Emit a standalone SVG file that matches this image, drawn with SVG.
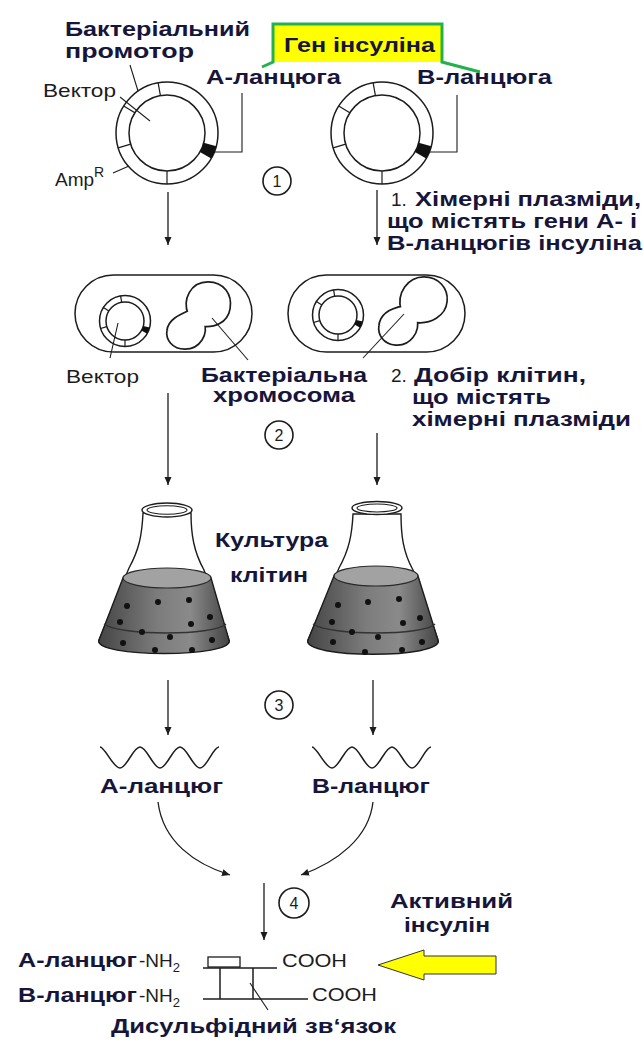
<svg xmlns="http://www.w3.org/2000/svg" xmlns:xlink="http://www.w3.org/1999/xlink" width="643" height="1041" viewBox="0 0 643 1041">
  <style>
    .lbl { font-family: "Liberation Sans", Arial, sans-serif; font-weight: 700; font-size: 19.5px; fill: #16163a; }
    .reg { font-family: "Liberation Sans", Arial, sans-serif; font-size: 19px; fill: #1c1c1c; }
    .num { font-family: "Liberation Sans", Arial, sans-serif; font-size: 16px; fill: #1c1c1c; text-anchor: middle; }
    .ln { fill: none; stroke: #1c1c1c; stroke-width: 1.5; }
    .thin { fill: none; stroke: #1c1c1c; stroke-width: 1.1; }
    .arrow { fill: none; stroke: #1c1c1c; stroke-width: 1.3; marker-end: url(#head); }
    .badge { fill: #fff; stroke: #1c1c1c; stroke-width: 1.6; }
    .dot { fill: #111; }
  </style>
  <defs>
    <marker id="head" markerUnits="userSpaceOnUse" markerWidth="9" markerHeight="8" refX="8" refY="3.5" orient="auto">
      <path d="M0,0 L8,3.5 L0,7 Z" fill="#1c1c1c"/>
    </marker>
    <!-- plasmid ring: outer r 51, inner r 38, segment ticks and a black gene insert -->
    <g id="plasmid">
      <circle r="51" fill="#fff" stroke="#1c1c1c" stroke-width="1.5" vector-effect="non-scaling-stroke"/>
      <circle r="38" fill="#fff" stroke="#1c1c1c" stroke-width="1.5" vector-effect="non-scaling-stroke"/>
      <g stroke="#1c1c1c" stroke-width="1.2">
        <line x1="38" x2="51" transform="rotate(-100)" vector-effect="non-scaling-stroke"/>
        <line x1="38" x2="51" transform="rotate(-148)" vector-effect="non-scaling-stroke"/>
        <line x1="38" x2="51" transform="rotate(163)" vector-effect="non-scaling-stroke"/>
        <line x1="38" x2="51" transform="rotate(90)" vector-effect="non-scaling-stroke"/>
      </g>
      <path d="M49.3,13.2 A51,51 0 0 1 44.2,25.5 L32.9,19 A38,38 0 0 0 36.7,9.8 Z" fill="#111"/>
    </g>
    <!-- bacterial chromosome outlines (drawn twice: dark wide stroke, then white narrower stroke) -->
    <path id="chromo-a" d="M191,313 C186,300 193,285 208,285 C222,285 229,296 227,308 C225,320 214,325 201,323 C205,333 198,346 185,346 C174,346 169,338 170,331 C171,322 180,318 191,313 Z"/>
    <path id="chromo-b" d="M404,309 C400,294 410,280 424,280 C437,280 445,290 444,301 C443,313 430,322 414,319 C417,331 408,343 396,342 C385,341 381,333 382,326 C383,316 393,311 404,309 Z"/>
    <linearGradient id="liquid" x1="0" y1="0" x2="1" y2="0">
      <stop offset="0" stop-color="#454545"/>
      <stop offset="0.45" stop-color="#7c7c7c"/>
      <stop offset="0.7" stop-color="#8a8a8a"/>
      <stop offset="1" stop-color="#444"/>
    </linearGradient>
  </defs>

  <!-- label: insulin gene callout -->
  <g id="gene-callout">
    <rect x="273" y="24" width="169" height="38" fill="#ffff00"/>
    <polyline points="262,67 273,62 273,24 442,24 442,62 480,72" fill="none" stroke="#22b14c" stroke-width="3"/>
    <text class="lbl" x="284" y="52" textLength="151" lengthAdjust="spacingAndGlyphs">Ген інсуліна</text>
  </g>

  <!-- plasmid carrying the A-chain gene -->
  <g id="plasmid-a">
    <use xlink:href="#plasmid" transform="translate(167,133)"/>
    <polyline class="thin" points="214,152 242,152 242,93"/>
    <line class="thin" x1="130" y1="65" x2="138" y2="91"/>
    <line class="thin" x1="120" y1="97" x2="150" y2="121"/>
    <line class="thin" x1="113" y1="173" x2="129" y2="166"/>
    <text class="lbl" x="65" y="36" textLength="185" lengthAdjust="spacingAndGlyphs">Бактеріальний</text>
    <text class="lbl" x="65" y="58" textLength="129" lengthAdjust="spacingAndGlyphs">промотор</text>
    <text class="lbl" x="206" y="84" textLength="135" lengthAdjust="spacingAndGlyphs">А-ланцюга</text>
    <text class="reg" x="43" y="97" textLength="73" lengthAdjust="spacingAndGlyphs">Вектор</text>
    <text class="reg" x="55" y="186" font-size="21">Amp<tspan font-size="14" dy="-9">R</tspan></text>
  </g>

  <!-- plasmid carrying the B-chain gene -->
  <g id="plasmid-b">
    <use xlink:href="#plasmid" transform="translate(382,133)"/>
    <polyline class="thin" points="429,152 457,152 457,95"/>
    <text class="lbl" x="417" y="84" textLength="135" lengthAdjust="spacingAndGlyphs">В-ланцюга</text>
  </g>

  <g id="step-1">
    <circle class="badge" cx="277" cy="181" r="14"/>
    <text class="num" x="277" y="187">1</text>
    <text class="reg" x="391" y="206" font-size="18">1.</text>
    <text class="lbl" x="415" y="206" textLength="226" lengthAdjust="spacingAndGlyphs">Хімерні плазміди,</text>
    <text class="lbl" x="387" y="228" textLength="250" lengthAdjust="spacingAndGlyphs">що містять гени А- і</text>
    <text class="lbl" x="387" y="250" textLength="255" lengthAdjust="spacingAndGlyphs">В-ланцюгів інсуліна</text>
  </g>

  <!-- bacterial cell with A plasmid -->
  <g id="cell-a">
    <rect x="75" y="275" width="177" height="77" rx="38.5" fill="#fff" stroke="#1c1c1c" stroke-width="1.5"/>
    <use xlink:href="#plasmid" transform="translate(125,321) scale(0.5)"/>
    <use xlink:href="#chromo-a" fill="#fff" stroke="#1c1c1c" stroke-width="8"/>
    <use xlink:href="#chromo-a" fill="#fff" stroke="#fff" stroke-width="4.6"/>
    <line class="thin" x1="118" y1="323" x2="110" y2="358"/>
    <line class="thin" x1="212" y1="318" x2="248" y2="360"/>
    <text class="reg" x="66" y="383" textLength="73" lengthAdjust="spacingAndGlyphs">Вектор</text>
    <text class="lbl" x="201" y="382" textLength="166" lengthAdjust="spacingAndGlyphs">Бактеріальна</text>
    <text class="lbl" x="213" y="402" textLength="142" lengthAdjust="spacingAndGlyphs">хромосома</text>
  </g>

  <!-- bacterial cell with B plasmid -->
  <g id="cell-b">
    <rect x="288" y="275" width="177" height="77" rx="38.5" fill="#fff" stroke="#1c1c1c" stroke-width="1.5"/>
    <use xlink:href="#plasmid" transform="translate(338,315) scale(0.5)"/>
    <use xlink:href="#chromo-b" fill="#fff" stroke="#1c1c1c" stroke-width="8"/>
    <use xlink:href="#chromo-b" fill="#fff" stroke="#fff" stroke-width="4.6"/>
    <line class="thin" x1="404" y1="314" x2="363" y2="358"/>
  </g>

  <g id="step-2">
    <circle class="badge" cx="279" cy="435" r="14"/>
    <text class="num" x="279" y="441">2</text>
    <text class="reg" x="391" y="382" font-size="18">2.</text>
    <text class="lbl" x="414" y="382" textLength="172" lengthAdjust="spacingAndGlyphs">Добір клітин,</text>
    <text class="lbl" x="412" y="404" textLength="139" lengthAdjust="spacingAndGlyphs">що містять</text>
    <text class="lbl" x="412" y="426" textLength="219" lengthAdjust="spacingAndGlyphs">хімерні плазміди</text>
  </g>

  <!-- culture flask A -->
  <g id="flask-a">
    <path d="M143,513 C142,535 139,550 129,568 L99,640 C92,656 236,656 229,640 L204,570 C194,552 191,535 191,513 Z" fill="#fff" stroke="#1c1c1c" stroke-width="1.4"/>
    <path d="M123,578 L99,640 C92,658 236,658 229,640 L211,578 Z" fill="url(#liquid)" stroke="#1c1c1c" stroke-width="1.4"/>
    <ellipse cx="167" cy="578" rx="44" ry="10" fill="#a2a2a2" stroke="#2a2a2a" stroke-width="1.2"/>
    <path d="M104,624 C120,636 214,636 226,624" fill="none" stroke="#333" stroke-width="1.3"/>
    <ellipse cx="167" cy="510" rx="25" ry="7" fill="#fff" stroke="#1c1c1c" stroke-width="1.4"/>
    <ellipse cx="167" cy="510" rx="20" ry="4.3" fill="none" stroke="#1c1c1c" stroke-width="1.1"/>
    <g class="dot">
      <circle cx="127" cy="606" r="3"/><circle cx="158" cy="602" r="3"/><circle cx="189" cy="600" r="3"/>
      <circle cx="210" cy="617" r="3"/><circle cx="191" cy="624" r="3"/><circle cx="120" cy="622" r="3"/>
      <circle cx="142" cy="632" r="3"/><circle cx="170" cy="637" r="3"/><circle cx="123" cy="643" r="3"/>
      <circle cx="155" cy="650" r="3"/><circle cx="192" cy="650" r="3"/><circle cx="212" cy="640" r="3"/>
    </g>
    <text class="lbl" x="215" y="547" textLength="113" lengthAdjust="spacingAndGlyphs">Культура</text>
    <text class="lbl" x="230" y="582" textLength="78" lengthAdjust="spacingAndGlyphs">клітин</text>
  </g>

  <!-- culture flask B -->
  <g id="flask-b">
    <path d="M353,514 C352,535 349,550 339,568 L308,640 C301,657 445,657 438,640 L413,570 C403,552 401,535 401,514 Z" fill="#fff" stroke="#1c1c1c" stroke-width="1.4"/>
    <path d="M334,576 L308,640 C301,659 445,659 438,640 L418,576 Z" fill="url(#liquid)" stroke="#1c1c1c" stroke-width="1.4"/>
    <ellipse cx="376" cy="576" rx="42" ry="10" fill="#a2a2a2" stroke="#2a2a2a" stroke-width="1.2"/>
    <path d="M313,624 C330,636 424,636 435,624" fill="none" stroke="#333" stroke-width="1.3"/>
    <ellipse cx="377" cy="508" rx="25" ry="6.5" fill="#fff" stroke="#1c1c1c" stroke-width="1.4"/>
    <ellipse cx="377" cy="508" rx="20" ry="4" fill="none" stroke="#1c1c1c" stroke-width="1.1"/>
    <g class="dot">
      <circle cx="338" cy="605" r="3"/><circle cx="368" cy="602" r="3"/><circle cx="399" cy="599" r="3"/>
      <circle cx="420" cy="618" r="3"/><circle cx="403" cy="623" r="3"/><circle cx="332" cy="622" r="3"/>
      <circle cx="352" cy="632" r="3"/><circle cx="378" cy="637" r="3"/><circle cx="333" cy="642" r="3"/>
      <circle cx="365" cy="652" r="3"/><circle cx="402" cy="650" r="3"/><circle cx="422" cy="642" r="3"/>
    </g>
  </g>

  <g id="step-3">
    <circle class="badge" cx="279" cy="705" r="14"/>
    <text class="num" x="279" y="711">3</text>
  </g>

  <!-- expressed polypeptide chains -->
  <g id="chain-a">
    <path class="ln" d="M100,747 C105,747 113,768 120,768 C127,768 133,747 140,747 C147,747 153,768 160,768 C167,768 173,747 180,747 C187,747 193,768 200,768 C207,768 213,747 219,747"/>
    <text class="lbl" x="100" y="793" textLength="123" lengthAdjust="spacingAndGlyphs">А-ланцюг</text>
  </g>
  <g id="chain-b">
    <path class="ln" d="M312,747 C317,747 325,768 332,768 C339,768 345,747 352,747 C359,747 365,768 372,768 C379,768 385,747 392,747 C399,747 405,768 412,768 C419,768 425,747 431,747"/>
    <text class="lbl" x="312" y="793" textLength="118" lengthAdjust="spacingAndGlyphs">В-ланцюг</text>
  </g>

  <g id="step-4">
    <circle class="badge" cx="294" cy="903" r="15"/>
    <text class="num" x="294" y="909">4</text>
  </g>

  <!-- assembled insulin: two chains joined by disulfide bridges -->
  <g id="insulin">
    <rect x="208" y="957" width="32" height="10" fill="#fff" stroke="#1c1c1c" stroke-width="1.3"/>
    <line class="ln" x1="203" y1="968" x2="277" y2="968"/>
    <line class="ln" x1="220" y1="968" x2="220" y2="999"/>
    <line class="ln" x1="253" y1="968" x2="253" y2="999"/>
    <line class="ln" x1="203" y1="999" x2="308" y2="999"/>
    <line class="thin" x1="250" y1="983" x2="268" y2="1010"/>
    <text class="lbl" x="18" y="967" textLength="119" lengthAdjust="spacingAndGlyphs">А-ланцюг</text>
    <text class="reg" x="139" y="967">-NH<tspan font-size="13" dy="5">2</tspan></text>
    <text class="lbl" x="18" y="1002" textLength="119" lengthAdjust="spacingAndGlyphs">В-ланцюг</text>
    <text class="reg" x="139" y="1002">-NH<tspan font-size="13" dy="5">2</tspan></text>
    <text class="reg" x="282" y="967" font-size="20" textLength="65" lengthAdjust="spacingAndGlyphs">COOH</text>
    <text class="reg" x="312" y="1001" font-size="20" textLength="65" lengthAdjust="spacingAndGlyphs">COOH</text>
    <text class="lbl" x="111" y="1033" textLength="285" lengthAdjust="spacingAndGlyphs">Дисульфідний зв‘язок</text>
  </g>

  <g id="active-insulin">
    <text class="lbl" x="390" y="908" textLength="123" lengthAdjust="spacingAndGlyphs">Активний</text>
    <text class="lbl" x="404" y="932" textLength="86" lengthAdjust="spacingAndGlyphs">інсулін</text>
    <polygon points="378,965 424,950 424,956 496,956 496,974 424,974 424,980" fill="#ffff00" stroke="#333" stroke-width="1"/>
  </g>

  <g id="connectors">
    <line class="arrow" x1="168" y1="192" x2="168" y2="245"/>
    <line class="arrow" x1="377" y1="190" x2="377" y2="245"/>
    <line class="arrow" x1="168" y1="393" x2="168" y2="485"/>
    <line class="arrow" x1="377" y1="433" x2="377" y2="485"/>
    <line class="arrow" x1="168" y1="680" x2="168" y2="735"/>
    <line class="arrow" x1="373" y1="680" x2="373" y2="735"/>
    <path class="arrow" d="M158,802 C163,842 195,864 230,875"/>
    <path class="arrow" d="M373,802 C369,838 337,862 301,875"/>
    <line class="arrow" x1="264" y1="883" x2="264" y2="940"/>
  </g>
</svg>
